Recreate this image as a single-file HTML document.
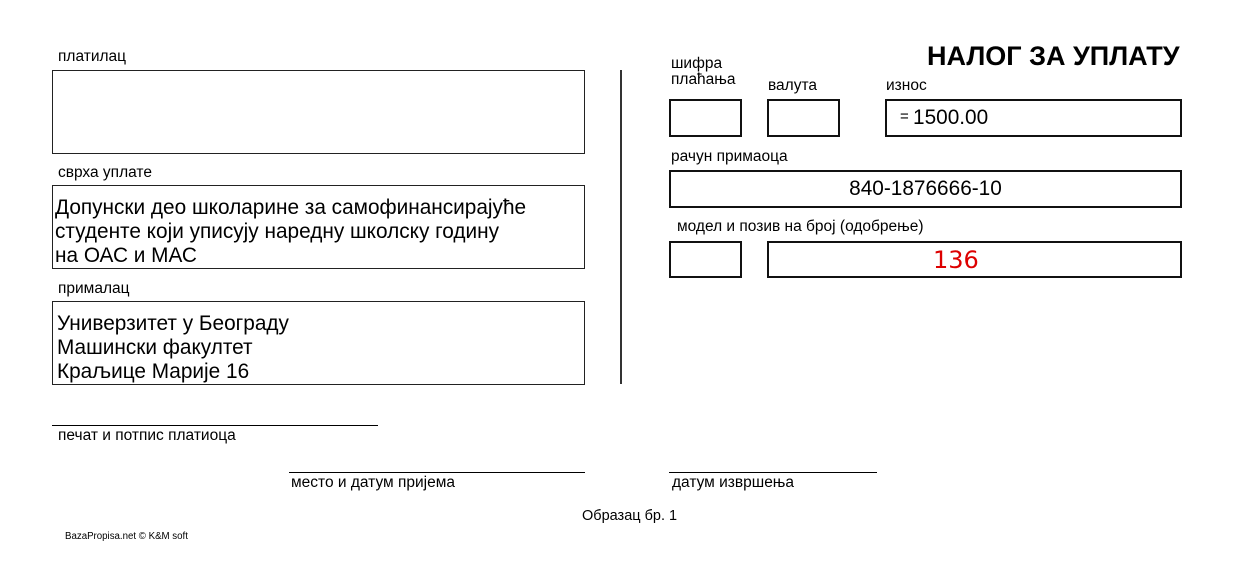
<!DOCTYPE html>
<html><head><meta charset="utf-8"><style>
body{margin:0;width:1240px;height:570px;background:#fff;position:relative;font-family:"Liberation Sans",Arial,sans-serif;color:#000;overflow:hidden}
.a{position:absolute;white-space:nowrap}
.b{position:absolute;border:1px solid #222;box-sizing:border-box}
.r{position:absolute;border:2px solid #111;box-sizing:border-box}
.l{font-size:15.5px}
.t{font-size:20.8px;line-height:24px}
.h{position:absolute;height:0;border-top:1.5px solid #000}
</style></head><body>
<div class="a l" style="left:58px;top:48px">платилац</div>
<div class="b" style="left:52px;top:70px;width:533px;height:84px"></div>
<div class="a l" style="left:58px;top:164px">сврха уплате</div>
<div class="b" style="left:52px;top:185px;width:533px;height:84px"></div>
<div class="a t" style="left:55px;top:196px">Допунски део школарине за самофинансирајуће<br>студенте који уписују наредну школску годину<br>на ОАС и МАС</div>
<div class="a l" style="left:58px;top:280px">прималац</div>
<div class="b" style="left:52px;top:301px;width:533px;height:84px"></div>
<div class="a t" style="left:57px;top:312px">Универзитет у Београду<br>Машински факултет<br>Краљице Марије 16</div>
<div class="a" style="left:620px;top:70px;width:1.5px;height:314px;background:#333"></div>

<div class="a" style="left:927px;top:41px;font-size:27px;font-weight:bold">НАЛОГ ЗА УПЛАТУ</div>
<div class="a l" style="left:671px;top:56px;line-height:16px">шифра<br>плаћања</div>
<div class="a l" style="left:768px;top:77px">валута</div>
<div class="a l" style="left:886px;top:77px">износ</div>
<div class="r" style="left:669px;top:99px;width:73px;height:38px"></div>
<div class="r" style="left:767px;top:99px;width:73px;height:38px"></div>
<div class="r" style="left:885px;top:99px;width:297px;height:38px"></div>
<div class="a" style="left:900px;top:108px;font-size:15px">=</div>
<div class="a t" style="left:913px;top:106px">1500.00</div>
<div class="a l" style="left:671px;top:148px">рачун примаоца</div>
<div class="r" style="left:669px;top:170px;width:513px;height:38px"></div>
<div class="a t" style="left:669px;top:177px;width:513px;text-align:center">840-1876666-10</div>
<div class="a l" style="left:677px;top:218px">модел и позив на број (одобрење)</div>
<div class="r" style="left:669px;top:241px;width:73px;height:37px"></div>
<div class="r" style="left:767px;top:241px;width:415px;height:37px"></div>
<div class="a" style="left:933px;top:246px;font-size:24px;color:#d00;font-family:'DejaVu Sans',sans-serif">136</div>

<div class="h" style="left:52px;top:425px;width:326px"></div>
<div class="a l" style="left:58px;top:427px">печат и потпис платиоца</div>
<div class="h" style="left:289px;top:472px;width:296px"></div>
<div class="a l" style="left:291px;top:474px">место и датум пријема</div>
<div class="h" style="left:669px;top:472px;width:208px"></div>
<div class="a l" style="left:672px;top:474px">датум извршења</div>
<div class="a" style="left:582px;top:508px;font-size:14.5px">Образац бр. 1</div>
<div class="a" style="left:65px;top:531px;font-size:9.7px">BazaPropisa.net © K&amp;M soft</div>
</body></html>
